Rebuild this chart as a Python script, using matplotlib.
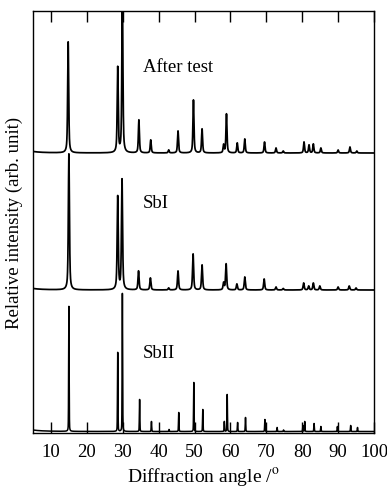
import numpy as np
import matplotlib
matplotlib.use("Agg")
import matplotlib.pyplot as plt

plt.rcParams['font.family'] = ['Liberation Serif', 'DejaVu Serif']
plt.rcParams['mathtext.fontset'] = 'stix'

# ---- data (peak positions in 2theta, heights in arbitrary units) ----
after_pos = [14.8, 28.6, 29.9, 34.5, 37.8, 42.8, 45.4, 49.7, 52.1, 58.1, 58.9,
             61.9, 64.0, 69.5, 72.7, 74.7, 80.5, 81.9, 83.1, 85.2, 90.0, 93.3, 95.2]
after_h = [111, 85, 165, 33, 13, 3, 22, 53, 24, 8, 39,
           10, 14, 11, 5, 2, 11, 8, 9, 5, 3, 6, 2]

sbi_pos = [15.0, 28.6, 29.8, 34.4, 37.7, 42.8, 45.4, 49.6, 52.1, 58.1, 58.8,
           61.8, 64.0, 69.4, 72.7, 74.7, 80.4, 81.8, 83.1, 84.9, 90.0, 93.1, 95.0]
sbi_h = [136, 93, 110, 19, 12, 2, 19, 36, 25, 7, 26,
         6, 13, 11, 3, 1.5, 7, 4, 7, 4, 3, 4, 2]

sbii_pos = [15.0, 28.6, 29.9, 34.7, 38.0, 42.9, 45.6, 49.8, 52.3, 58.3, 59.1,
            62.0, 64.2, 69.6, 73.0, 74.8, 80.2, 80.7, 83.3, 85.2, 89.8, 93.5, 95.4]
sbii_h = [125, 79, 138, 32, 10, 2, 19, 49, 22, 10, 37,
          9, 14, 12, 4, 1.5, 6, 10, 8, 5, 5, 6, 4]

labels = ["After test", "SbI", "SbII"]
offsets = [280, 143, 1.5]
xticks = [10, 20, 30, 40, 50, 60, 70, 80, 90, 100]


def profile(x, pos, h, fwhm, eta):
    y = np.zeros_like(x)
    for p, a in zip(pos, h):
        d = (x - p) / (fwhm / 2)
        lor = 1 / (1 + d ** 2)
        gau = np.exp(-np.log(2) * d ** 2)
        y += a * (eta * lor + (1 - eta) * gau)
    return y


x = np.arange(5, 100.001, 0.01)

fig = plt.figure(figsize=(3.87, 4.89), dpi=100)
ax = fig.add_axes([33 / 387, 55 / 489, 341 / 387, 422 / 489])

series = [(after_pos, after_h, 0.34, 0.6, 1.25), (sbi_pos, sbi_h, 0.36, 0.6, 1.25),
          (sbii_pos, sbii_h, 0.16, 0.25, 1.1)]
for (pos, h, w, eta, lw), off in zip(series, offsets):
    y = profile(x, pos, h, w, eta)
    # low-angle background tail (off-axis broad feature)
    y += profile(x, [2.0], [3.0], 6.0, 1.0)
    ax.plot(x, y + off, color='black', lw=lw)

ax.set_xlim(5, 100)
ax.set_ylim(0, 422)
ax.set_xticks(xticks)
ax.set_yticks([])
ax.tick_params(axis='x', direction='in', length=8, width=1, top=True,
               labelsize=13.5, pad=7)
for s in ax.spines.values():
    s.set_linewidth(1)

ax.text(35.6, 366, labels[0], fontsize=13.5, va='center', ha='left')
ax.text(35.6, 231, labels[1], fontsize=13.5, va='center', ha='left')
ax.text(35.6, 81, labels[2], fontsize=13.5, va='center', ha='left')

ax.set_xlabel("Diffraction angle /$^{\\mathrm{o}}$", fontsize=14, labelpad=4.5)
ax.set_ylabel("Relative intensity (arb. unit)", fontsize=13.5, labelpad=7)

fig.savefig("out.png", dpi=100)
